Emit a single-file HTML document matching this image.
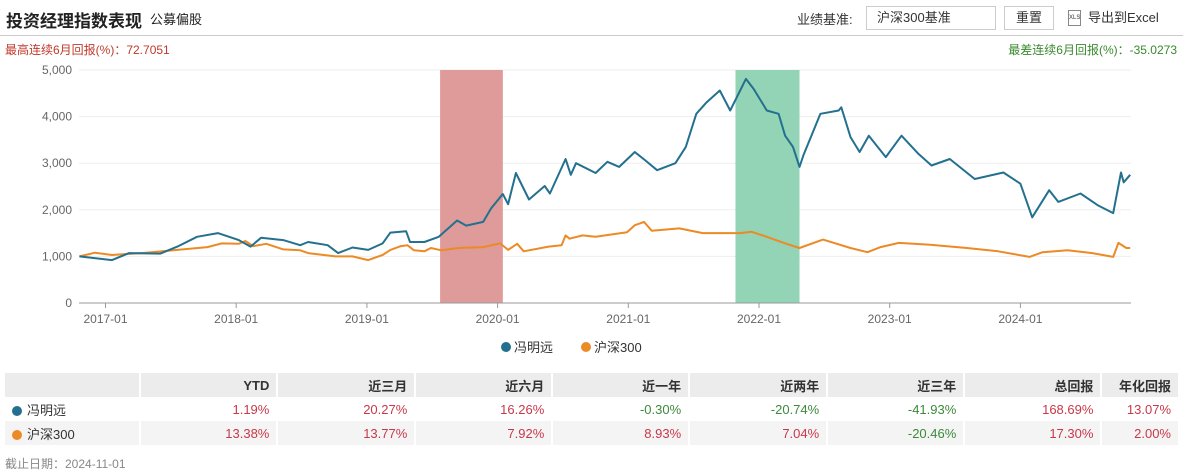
<!DOCTYPE html>
<html><head><meta charset="utf-8">
<style>
body{margin:0;width:1183px;height:471px;background:#fff;font-family:"Liberation Sans","Noto Sans CJK SC",sans-serif;overflow:hidden;position:relative}
.abs{position:absolute;white-space:nowrap}
table{position:absolute;left:5px;top:373px;width:1173px;border-collapse:collapse;font-size:13px}
td,th{height:24px;padding:0 7px;text-align:right;border-left:2px solid #fff}
th{background:#ececec;color:#333;font-weight:bold}
tr.r2 td{background:#f4f4f4}
td.n{text-align:left;color:#333}
.up{color:#c8384a}.dn{color:#3b8a3b}
.dot{display:inline-block;width:10px;height:10px;border-radius:50%;margin-right:5px;vertical-align:-1px}
</style></head><body>
<div class="abs" style="left:6px;top:7px;font-size:17px;font-weight:bold;color:#222">投资经理指数表现</div>
<div class="abs" style="left:150px;top:9px;font-size:13px;color:#222">公募偏股</div>
<div class="abs" style="left:797px;top:9px;font-size:13px;color:#333">业绩基准:</div>
<div class="abs" style="left:866px;top:6px;width:118px;height:22px;border:1px solid #ccc;font-size:13px;line-height:22px;padding-left:10px;color:#333">沪深300基准</div>
<div class="abs" style="left:1004px;top:6px;width:48px;height:22px;border:1px solid #ccc;font-size:13px;line-height:22px;text-align:center;color:#333">重置</div>
<div class="abs" style="left:1068px;top:10px;font-size:13px;color:#333;line-height:16px"><span style="display:inline-block;width:11px;height:14px;border:1px solid #888;font-size:6px;line-height:14px;text-align:center;vertical-align:top;margin-right:7px">XLS</span>导出到Excel</div>
<div class="abs" style="left:0;top:35px;width:1183px;height:1px;background:#ccc"></div>
<div class="abs" style="left:5px;top:41px;font-size:12px;color:#c0392b">最高连续6月回报(%)：72.7051</div>
<div class="abs" style="right:6px;top:41px;font-size:12px;color:#3a8a2e">最差连续6月回报(%)：-35.0273</div>
<svg id="chart" class="abs" style="left:0;top:0" width="1183" height="365"></svg>
<table>
<tr><th style="width:123px;border-left:0"></th><th style="width:123px">YTD</th><th style="width:124px">近三月</th><th style="width:123px">近六月</th><th style="width:123px">近一年</th><th style="width:124px">近两年</th><th style="width:123px">近三年</th><th style="width:123px">总回报</th><th style="width:62px">年化回报</th></tr>
<tr><td class="n" style="border-left:0"><span class="dot" style="background:#24708f"></span>冯明远</td><td class="up">1.19%</td><td class="up">20.27%</td><td class="up">16.26%</td><td class="dn">-0.30%</td><td class="dn">-20.74%</td><td class="dn">-41.93%</td><td class="up">168.69%</td><td class="up">13.07%</td></tr>
<tr class="r2"><td class="n" style="border-left:0"><span class="dot" style="background:#ec8a25"></span>沪深300</td><td class="up">13.38%</td><td class="up">13.77%</td><td class="up">7.92%</td><td class="up">8.93%</td><td class="up">7.04%</td><td class="dn">-20.46%</td><td class="up">17.30%</td><td class="up">2.00%</td></tr>
</table>
<div class="abs" style="left:5px;top:455px;font-size:12px;color:#888">截止日期：2024-11-01</div>
<script>
const yTicks=[0,1000,2000,3000,4000,5000];
const xTickLabels=["2017-01","2018-01","2019-01","2020-01","2021-01","2022-01","2023-01","2024-01"];
const xTickYears=[2017,2018,2019,2020,2021,2022,2023,2024];
const bands=[[2019.56,2020.04,"#df9a9a"],[2021.82,2022.31,"#93d3b6"]];
const mgrT=[2016.80,2017.05,2017.18,2017.42,2017.55,2017.70,2017.86,2018.02,2018.11,2018.19,2018.36,2018.49,2018.55,2018.70,2018.78,2018.89,2019.01,2019.12,2019.18,2019.30,2019.33,2019.44,2019.55,2019.69,2019.76,2019.89,2019.95,2020.04,2020.08,2020.14,2020.24,2020.36,2020.40,2020.52,2020.56,2020.60,2020.75,2020.84,2020.93,2021.05,2021.13,2021.22,2021.36,2021.44,2021.52,2021.60,2021.70,2021.78,2021.90,2021.96,2022.06,2022.15,2022.20,2022.26,2022.31,2022.34,2022.47,2022.61,2022.63,2022.70,2022.77,2022.84,2022.97,2023.09,2023.22,2023.32,2023.46,2023.65,2023.87,2024.00,2024.09,2024.22,2024.29,2024.46,2024.59,2024.71,2024.77,2024.79,2024.84];
const mgrV=[1000,920,1070,1060,1210,1420,1500,1350,1210,1400,1350,1240,1310,1240,1070,1190,1140,1280,1510,1540,1310,1310,1420,1770,1660,1740,2030,2340,2120,2790,2220,2510,2350,3090,2750,3000,2790,3030,2920,3240,3060,2850,3000,3350,4060,4310,4560,4130,4810,4590,4130,4060,3590,3350,2920,3170,4060,4130,4200,3560,3240,3590,3130,3590,3200,2950,3090,2660,2800,2560,1840,2420,2170,2350,2100,1930,2800,2590,2750];
const csiT=[2016.80,2016.92,2017.05,2017.31,2017.55,2017.78,2017.89,2018.02,2018.07,2018.13,2018.23,2018.36,2018.49,2018.55,2018.76,2018.89,2019.01,2019.12,2019.18,2019.26,2019.31,2019.36,2019.44,2019.49,2019.57,2019.70,2019.89,2020.02,2020.08,2020.15,2020.20,2020.39,2020.49,2020.52,2020.55,2020.65,2020.75,2020.99,2021.05,2021.12,2021.18,2021.39,2021.57,2021.86,2021.94,2022.06,2022.19,2022.31,2022.49,2022.70,2022.83,2022.93,2023.07,2023.31,2023.59,2023.83,2024.07,2024.17,2024.36,2024.55,2024.71,2024.75,2024.81,2024.84];
const csiV=[1000,1080,1030,1080,1140,1200,1280,1270,1330,1220,1270,1150,1130,1070,1000,1000,920,1030,1140,1220,1240,1130,1110,1180,1130,1180,1200,1280,1140,1270,1110,1210,1240,1450,1380,1450,1420,1520,1670,1740,1550,1600,1500,1500,1530,1420,1290,1180,1360,1180,1090,1200,1290,1250,1180,1110,990,1090,1130,1070,990,1290,1180,1180];
const X0=79,X1=1131,Y0=303,Y1=70;
const xs=t=>105.5+(t-2017)*130.7;
const ys=v=>Y0-(v/5000)*(Y0-Y1);
const svg=document.getElementById('chart');const NS='http://www.w3.org/2000/svg';
function mk(tag,at){const e=document.createElementNS(NS,tag);for(const k in at)e.setAttribute(k,at[k]);svg.appendChild(e);return e;}
yTicks.forEach(v=>{
 const g=mk('line',{x1:X0,x2:X1,y1:ys(v),y2:ys(v),stroke:'#eeeeee'});
 
 
 const t=mk('text',{x:72,y:ys(v)+4,'text-anchor':'end','font-size':12,fill:'#666'});t.textContent=v.toLocaleString('en-US');
 
 
});
bands.forEach(b=>{
 const r=mk('rect',{x:xs(b[0]),y:Y1,width:xs(b[1])-xs(b[0]),height:Y0-Y1,fill:b[2]});
 
 
});
const ax=mk('line',{x1:X0,x2:X1,y1:Y0,y2:Y0,stroke:'#999'});


xTickYears.forEach((yr,i)=>{
 const tk=mk('line',{x1:xs(yr),x2:xs(yr),y1:Y0,y2:Y0+5,stroke:'#999'});
 
 
 const t=mk('text',{x:xs(yr),y:Y0+20,'text-anchor':'middle','font-size':12,fill:'#666'});t.textContent=xTickLabels[i];
 
 
});
function line(T,V,c,name){
 const d=T.map((t,i)=>(i?'L':'M')+xs(t).toFixed(1)+','+ys(V[i]).toFixed(1)).join('');
 const p=mk('path',{d:d,fill:'none',stroke:c,'stroke-width':2,'stroke-linejoin':'round'});
 
 
}
line(csiT,csiV,'#ec8a25','series-csi300');
line(mgrT,mgrV,'#24708f','series-manager');
const legend=[['冯明远','#24708f',506],['沪深300','#ec8a25',586]];
legend.forEach(l=>{
 const c=mk('circle',{cx:l[2],cy:347,r:5,fill:l[1]});
 
 
 const t=mk('text',{x:l[2]+8,y:352,'font-size':13,fill:'#333'});t.textContent=l[0];
 
 
});
</script>
</body></html>
